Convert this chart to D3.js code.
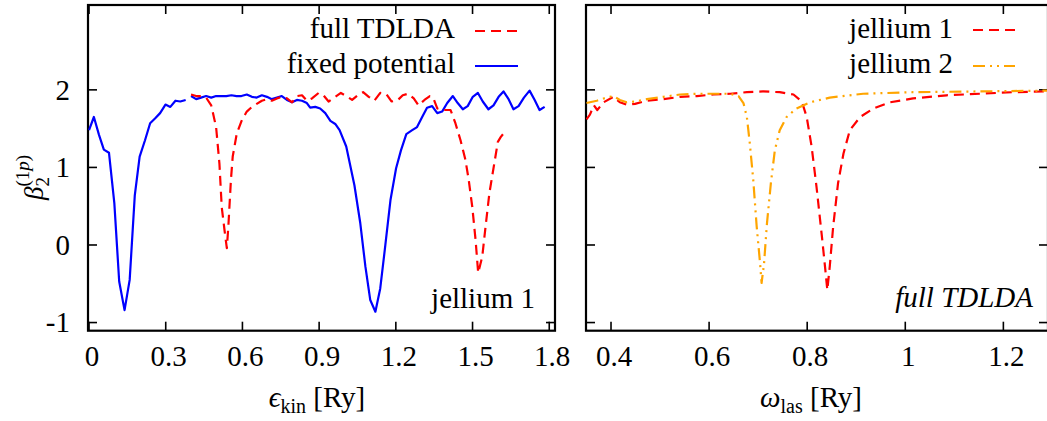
<!DOCTYPE html>
<html><head><meta charset="utf-8">
<script src="https://cdn.jsdelivr.net/npm/d3@7"></script>
<style>
html,body{margin:0;padding:0;background:#fff;}
</style></head>
<body><svg id="c" width="1047" height="421"></svg>
<script>
// ---------- data ----------
const fixedX = [0.000,0.019,0.039,0.058,0.078,0.099,0.118,0.139,0.159,0.179,0.198,0.219,0.239,0.258,0.278,0.299,0.318,0.338,0.357,0.378,0.389,
 0.399,0.419,0.438,0.458,0.478,0.497,0.518,0.537,0.557,0.577,0.596,0.617,0.637,0.656,0.676,0.696,0.715,0.735,0.754,0.774,0.794,0.813,0.833,0.852,0.865,0.885,0.904,0.924,0.944,0.963,0.980,
 1.006,1.038,1.061,1.081,1.100,1.120,1.139,1.159,1.179,1.201,1.220,1.241,1.264,1.283,1.303,1.322,1.342,1.362,1.381,1.401,1.423,1.442,1.462,1.481,1.501,1.521,1.540,1.562,1.582,1.602,1.621,1.641,1.660,1.680,1.701,1.723,1.743,1.762,1.782];
const fixedY = [1.48,1.65,1.42,1.23,1.19,0.54,-0.47,-0.84,-0.45,0.64,1.14,1.35,1.57,1.63,1.70,1.81,1.78,1.86,1.85,1.87,null,
 1.92,1.88,1.90,1.92,1.90,1.92,1.92,1.92,1.93,1.92,1.92,1.94,1.91,1.90,1.93,1.91,1.88,1.90,1.92,1.87,1.84,1.87,1.86,1.83,1.77,1.78,1.76,1.70,1.60,1.56,1.48,
 1.27,0.77,0.28,-0.28,-0.71,-0.86,-0.56,0.00,0.58,0.99,1.22,1.43,1.48,1.52,1.65,1.77,1.79,1.70,1.72,1.83,1.92,1.83,1.75,1.79,1.91,1.96,1.85,1.75,1.80,1.91,1.98,1.88,1.75,1.79,1.90,1.99,1.87,1.74,1.78];

const tdldaX = [0.399,0.419,0.438,0.458,0.478,0.497,0.510,0.519,0.530,0.539,0.545,0.555,0.562,0.578,0.598,0.617,0.637,0.656,0.676,0.696,0.715,0.735,0.754,0.774,0.794,0.813,0.833,0.852,0.872,0.898,0.917,0.937,0.963,0.985,
 1.006,1.029,1.051,1.072,1.094,1.116,1.139,1.162,1.183,1.205,1.227,1.248,1.270,1.289,1.312,1.333,1.348,1.362,1.387,1.414,1.433,1.453,1.472,1.485,1.499,1.512,1.522,1.538,1.551,1.566,1.583,1.599,1.610,1.629];
const tdldaY = [1.94,1.92,1.92,1.90,1.80,1.52,1.05,0.49,0.19,-0.04,0.24,0.84,1.14,1.44,1.61,1.72,1.78,1.82,1.86,1.88,1.86,1.89,1.91,1.89,1.84,1.92,1.93,1.86,1.89,1.96,1.93,1.85,1.91,1.96,
 1.92,1.87,1.93,1.97,1.91,1.86,1.96,1.95,1.85,1.86,1.93,1.95,1.89,1.80,1.87,1.92,1.88,1.76,1.74,1.74,1.57,1.35,1.10,0.84,0.49,0.06,-0.36,-0.15,0.24,0.67,1.01,1.33,1.39,1.47];

const jel1X = [0.350,0.357,0.365,0.372,0.385,0.405,0.418,0.432,0.449,0.473,0.507,0.541,0.575,0.609,0.643,0.677,0.710,0.744,0.772,0.789,0.799,0.809,0.819,0.830,0.837,0.841,0.846,0.853,0.863,0.874,0.887,0.908,0.935,0.969,1.016,1.084,1.152,1.220,1.290];
const jel1Y = [1.62,1.68,1.80,1.74,1.84,1.91,1.84,1.81,1.82,1.86,1.88,1.91,1.92,1.94,1.95,1.97,1.98,1.97,1.94,1.85,1.65,1.27,0.75,0.11,-0.32,-0.58,-0.28,0.24,0.80,1.18,1.48,1.65,1.76,1.84,1.89,1.93,1.95,1.97,1.98];

const jel2X = [0.350,0.371,0.391,0.405,0.418,0.432,0.449,0.473,0.507,0.541,0.575,0.609,0.643,0.660,0.670,0.677,0.683,0.690,0.697,0.704,0.707,0.712,0.718,0.726,0.734,0.744,0.758,0.778,0.806,0.846,0.914,1.016,1.152,1.290];
const jel2Y = [1.83,1.86,1.90,1.92,1.87,1.84,1.85,1.88,1.91,1.94,1.95,1.95,1.95,1.92,1.83,1.65,1.31,0.84,0.24,-0.24,-0.49,-0.24,0.28,0.80,1.22,1.48,1.65,1.76,1.84,1.90,1.95,1.97,1.98,1.99];

const leftXTicks = [0,0.3,0.6,0.9,1.2,1.5,1.8];
const leftXTickLabels = ["0","0.3","0.6","0.9","1.2","1.5","1.8"];
const rightXTicks = [0.4,0.6,0.8,1.0,1.2];
const rightXTickLabels = ["0.4","0.6","0.8","1","1.2"];
const yTicks = [-1,0,1,2];
const yTickLabels = ["-1","0","1","2"];

// ---------- layout ----------
const FONT = '"Liberation Serif", "Noto Serif CJK SC", serif';
const svg = d3.select("#c");
const pTop = 5, pBottom = 330.7;
const y = d3.scaleLinear().domain([-1.105, 3.094]).range([pBottom, pTop]);
const xL = d3.scaleLinear().domain([-0.004, 1.8225]).range([88, 555]);
const xR = d3.scaleLinear().domain([0.349, 1.291]).range([586, 1048]);
const FS = 29, TL = 9;

function txt(parent, x, yy, s, anchor, size){
  return parent.append("text").attr("x",x).attr("y",yy).attr("text-anchor",anchor||"start")
    .attr("font-size",size||FS).style("font-family",FONT).style("fill","#000").text(s);
}
function zip(xs, ys){ return xs.map((v,i)=>({x:v, y:ys[i]})); }

function panel(id, x, xt, xtl, showYLabels){
  const g = svg.append("g");
  const [x0,x1] = x.range();
  g.append("clipPath").attr("id", id).append("rect")
    .attr("x", x0).attr("y", pTop).attr("width", x1-x0).attr("height", pBottom-pTop);
  const tk = g.append("g").attr("stroke","#000").attr("stroke-width",1.6);
  xt.forEach(v=>{
    tk.append("line").attr("x1",x(v)).attr("x2",x(v)).attr("y1",pBottom).attr("y2",pBottom-TL);
    tk.append("line").attr("x1",x(v)).attr("x2",x(v)).attr("y1",pTop).attr("y2",pTop+TL);
  });
  yTicks.forEach(v=>{
    tk.append("line").attr("x1",x0).attr("x2",x0+TL).attr("y1",y(v)).attr("y2",y(v));
    tk.append("line").attr("x1",x1).attr("x2",x1-TL).attr("y1",y(v)).attr("y2",y(v));
  });
  g.append("rect").attr("x",x0).attr("y",pTop).attr("width",x1-x0).attr("height",pBottom-pTop)
    .attr("fill","none").attr("stroke","#000").attr("stroke-width",2.2);
  xt.forEach((v,i)=>{ txt(g, x(v)+3, 366, xtl[i], "middle"); });
  if(showYLabels){
    yTicks.forEach((v,i)=>{ txt(g, 70, y(v), yTickLabels[i], "end").attr("dy","0.34em"); });
  }
  return g.append("g").attr("clip-path",`url(#${id})`);
}

function drawLine(g, x, data, color, dash){
  const line = d3.line().defined(d=>d.y!==null).x(d=>x(d.x)).y(d=>y(d.y));
  g.append("path").datum(data).attr("d",line).attr("fill","none")
    .attr("stroke",color).attr("stroke-width",2.2).attr("stroke-linejoin","round")
    .attr("stroke-dasharray",dash||null);
}

const RED = "#ff0000", BLUE = "#0000ff", ORANGE = "#ffa500";
const DASH = "10,6", DDOT = "12,5,2,5,2,5";

const gL = panel("clipL", xL, leftXTicks, leftXTickLabels, true);
drawLine(gL, xL, zip(fixedX, fixedY), BLUE, null);
drawLine(gL, xL, zip(tdldaX, tdldaY), RED, DASH);

const gR = panel("clipR", xR, rightXTicks, rightXTickLabels, false);
drawLine(gR, xR, zip(jel1X, jel1Y), RED, DASH);
drawLine(gR, xR, zip(jel2X, jel2Y), ORANGE, DDOT);

function legendItem(tx, ty, lx0, lx1, ly, label, color, dash){
  txt(svg, tx, ty, label, "end");
  svg.append("line").attr("x1",lx0).attr("x2",lx1).attr("y1",ly).attr("y2",ly)
    .attr("stroke",color).attr("stroke-width",2.2).attr("stroke-dasharray",dash||null);
}
legendItem(455, 37.5, 475, 518, 31, "full TDLDA", RED, DASH);
legendItem(455, 72.5, 475, 518, 66, "fixed potential", BLUE, null);
legendItem(953, 37.5, 973, 1015, 30, "jellium 1", RED, DASH);
legendItem(953, 72.5, 973, 1015, 66, "jellium 2", ORANGE, DDOT);

txt(svg, 535, 308, "jellium 1", "end");
txt(svg, 1033, 307, "full TDLDA", "end").style("font-style","italic");

const tL = txt(svg, 317, 407, "", "middle");
tL.append("tspan").style("font-style","italic").text("ϵ");
tL.append("tspan").attr("font-size",20).attr("dy",6).text("kin");
tL.append("tspan").attr("dy",-6).text(" [Ry]");

const tR = txt(svg, 811, 407, "", "middle");
tR.append("tspan").style("font-style","italic").text("ω");
tR.append("tspan").attr("font-size",20).attr("dy",6).text("las");
tR.append("tspan").attr("dy",-6).text(" [Ry]");

const yl = txt(svg, 0, 0, "", "start", 27).attr("transform","translate(43,200) rotate(-90)");
yl.append("tspan").style("font-style","italic").text("β");
yl.append("tspan").attr("font-size",19).attr("dy",6).text("2");
yl.append("tspan").attr("font-size",19).attr("dx",-9.5).attr("dy",-20).text("(1");
yl.append("tspan").attr("font-size",19).style("font-style","italic").text("p");
yl.append("tspan").attr("font-size",19).text(")");
</script></body></html>
